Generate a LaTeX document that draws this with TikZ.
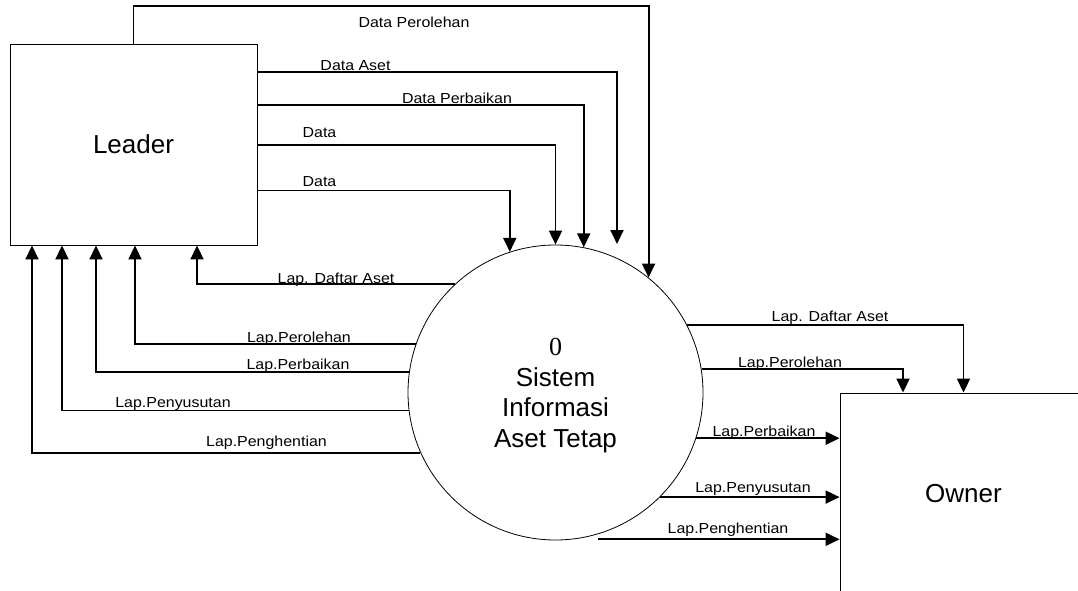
\documentclass[tikz,border=0pt]{standalone}
\usepackage{fontspec}
\setmainfont{Liberation Sans}
\newfontfamily\lblfont[FakeStretch=1.1]{Liberation Sans}
\newfontfamily\numfont{Liberation Serif}
\usetikzlibrary{arrows.meta}
\begin{document}
\begin{tikzpicture}[x=1pt,y=-1pt,
  flow/.style={line width=1.9pt, -{Triangle[length=14pt,width=13pt]}},
  box/.style={draw, line width=0.9pt, minimum width=247pt, minimum height=201pt, inner sep=0pt, font=\fontsize{26}{30}\selectfont},
  proc/.style={draw, circle, line width=0.8pt, minimum size=295pt, inner sep=0pt},
  proctext/.style={align=center, inner sep=0pt, font=\fontsize{26}{30.5}\selectfont},
  lbl/.style={anchor=base, inner sep=0pt, font=\lblfont\fontsize{14.5}{17}\selectfont}]
\useasboundingbox (0,0) rectangle (1078,591);
\clip (0,0) rectangle (1078,591);
% nodes
\node[box] (l) at (133.5,144.5) {Leader};
\node[box] (o) at (963.5,493.5) {Owner};
\node[proc] (c) at (555.5,392.5) {};
\node[proctext] (ct) at (555.5,395.5) {{\numfont 0}\\Sistem\\Informasi\\Aset Tetap};
\coordinate (daEnd) at (617,244);
% labels
\node[lbl] (t1) at (414,28) {Data Perolehan};
\node[lbl] (t2) at (355.5,71) {Data Aset};
\node[lbl] (t3) at (457,103) {Data Perbaikan};
\node[lbl] (t4) at (319.5,138) {Data};
\node[lbl] (t5) at (319.5,186) {Data};
\node[lbl] (t6) at (336,283) {Lap. Daftar Aset};
\node[lbl] (t7) at (299,342) {Lap.Perolehan};
\node[lbl] (t8) at (298,369) {Lap.Perbaikan};
\node[lbl] (t9) at (173,407) {Lap.Penyusutan};
\node[lbl] (t10) at (266.5,446) {Lap.Penghentian};
\node[lbl] (t11) at (830,321) {Lap. Daftar Aset};
\node[lbl] (t12) at (790,367) {Lap.Perolehan};
\node[lbl] (t13) at (764,436) {Lap.Perbaikan};
\node[lbl] (t14) at (753,492) {Lap.Penyusutan};
\node[lbl] (t15) at (728,533) {Lap.Penghentian};
% Leader -> system
\draw[flow] (l.north) -- (l.north |- 0,6) -| (c.51);
\draw[flow] (l.east |- 0,72) -| (daEnd);
\draw[flow] (l.east |- 0,105) -| (c.79);
\draw[flow] (l.east |- 0,145) -| (c.90);
\draw[flow] (l.east |- 0,190.5) -| (c.108);
% system -> Leader
\draw[flow] (c.133) -| (l.south -| 197,0);
\draw[flow] (c.161) -| (l.south -| 135,0);
\draw[flow] (c.172) -| (l.south -| 96,0);
\draw[flow] (c.187) -| (l.south -| 62,0);
\draw[flow] (c.204) -| (l.south -| 32,0);
% system -> Owner
\draw[flow] (c.27) -| (o.north);
\draw[flow] (c.9) -| (o.north -| 903,0);
\draw[flow] (c.-18) -- (c.-18 -| o.west);
\draw[flow] (c.-45) -- (c.-45 -| o.west);
\draw[flow] ([xshift=24pt]c.-83) -- (c.-83 -| o.west);
\end{tikzpicture}
\end{document}
